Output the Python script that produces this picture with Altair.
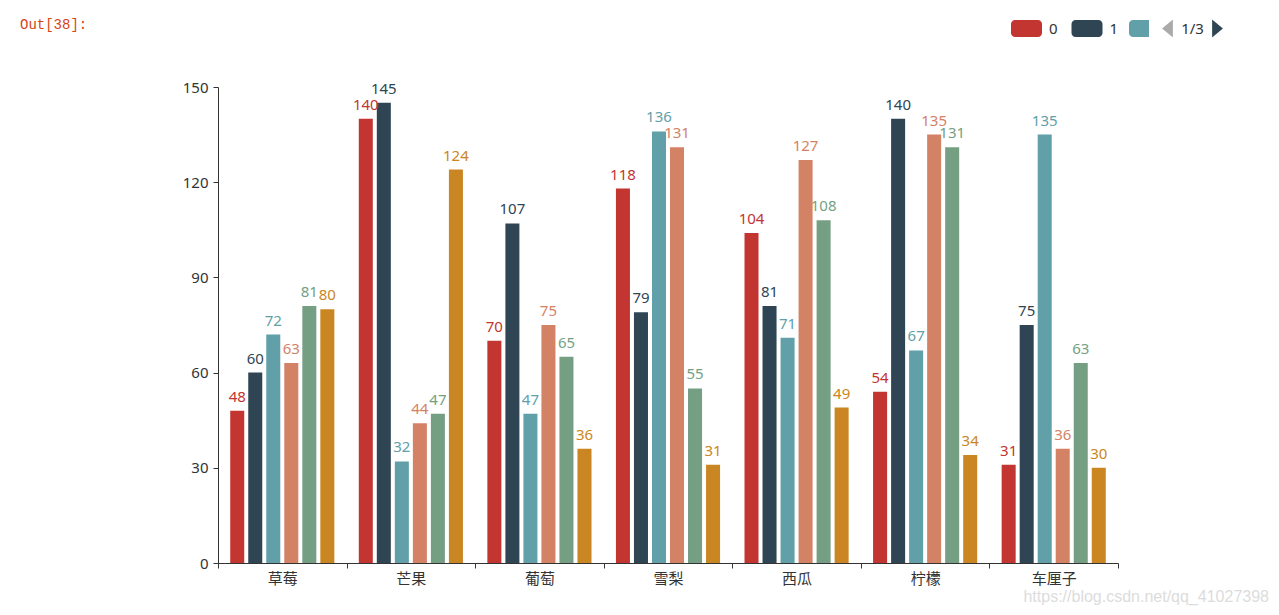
import altair as alt
import pandas as pd

categories = ["草莓", "芒果", "葡萄", "雪梨", "西瓜", "柠檬", "车厘子"]
series_names = ["0", "1", "2", "3", "4", "5"]
s0 = [48, 140, 70, 118, 104, 54, 31]
s1 = [60, 145, 107, 79, 81, 140, 75]
s2 = [72, 32, 47, 136, 71, 67, 135]
s3 = [63, 44, 75, 131, 127, 135, 36]
s4 = [81, 47, 65, 55, 108, 131, 63]
s5 = [80, 124, 36, 31, 49, 34, 30]
colors = ["#c23531", "#2f4554", "#61a0a8", "#d48265", "#749f83", "#ca8622"]
y_ticks = [0, 30, 60, 90, 120, 150]

series_values = [s0, s1, s2, s3, s4, s5]
rows = []
for name, vals in zip(series_names, series_values):
    for cat, v in zip(categories, vals):
        rows.append({"fruit": cat, "series": name, "value": v})
df = pd.DataFrame(rows)

FONT = "'Noto Sans', 'Noto Sans CJK SC', sans-serif"
TXT = "#333333"

color_scale = alt.Scale(domain=series_names, range=colors)
rr = 0.258
legend_path = (
    f"M{-1+rr},-0.548 H{1-rr} A{rr},{rr} 0 0 1 1,{-0.548+rr} V{0.548-rr} "
    f"A{rr},{rr} 0 0 1 {1-rr},0.548 H{-1+rr} A{rr},{rr} 0 0 1 -1,{0.548-rr} "
    f"V{-0.548+rr} A{rr},{rr} 0 0 1 {-1+rr},-0.548 Z"
)

x_enc = alt.X(
    "fruit:N",
    sort=categories,
    scale=alt.Scale(paddingInner=0, paddingOuter=0),
    axis=alt.Axis(
        title=None, labelAngle=0, tickBand="extent", tickSize=5,
        tickColor=TXT, domainColor=TXT, labelColor=TXT, labelFontSize=15,
        labelFont=FONT, labelPadding=3, grid=False,
    ),
)
xoff_enc = alt.XOffset(
    "series:N", sort=series_names,
    scale=alt.Scale(paddingInner=0.222, paddingOuter=0.678),
)
y_enc = alt.Y(
    "value:Q",
    scale=alt.Scale(domain=[0, 150], nice=False),
    axis=alt.Axis(
        title=None, values=y_ticks, grid=False, tickSize=5, tickColor=TXT,
        domainColor=TXT, labelColor=TXT, labelFontSize=15, labelFont=FONT,
        labelPadding=5,
    ),
)

base = alt.Chart(df)

bars = base.mark_bar().encode(
    x=x_enc,
    xOffset=xoff_enc,
    y=y_enc,
    color=alt.Color(
        "series:N", scale=color_scale,
        legend=alt.Legend(
            orient="none", legendX=793, legendY=-74, direction="horizontal",
            values=["0", "1"], title=None, symbolType=legend_path,
            symbolSize=961, symbolStrokeWidth=0, symbolOpacity=1,
            labelFontSize=15, labelColor=TXT, labelFont=FONT, labelOffset=7,
            columnPadding=12.5, padding=0,
        ),
    ),
)

labels = base.mark_text(
    baseline="alphabetic", dy=-9, fontSize=15, font=FONT
).encode(
    x=x_enc,
    xOffset=xoff_enc,
    y=y_enc,
    text=alt.Text("value:Q"),
    color=alt.Color("series:N", scale=color_scale, legend=None),
)

deco = pd.DataFrame([{"k": 1}])
dbase = alt.Chart(deco)

out_prompt = dbase.mark_text(
    align="left", baseline="middle", fontSize=14, font="Liberation Mono",
    color="#D84315",
).encode(x=alt.value(-198), y=alt.value(-62), text=alt.value("Out[38]:"))

watermark = dbase.mark_text(
    align="right", baseline="middle", fontSize=16, font="Liberation Sans",
    color="#dcdcdc",
).encode(x=alt.value(1051), y=alt.value(510),
         text=alt.value("https://blog.csdn.net/qq_41027398"))

# third legend swatch, cut off by the legend pager
cut_swatch = dbase.mark_rect(
    color=colors[2], cornerRadiusTopLeft=4, cornerRadiusBottomLeft=4,
).encode(x=alt.value(911), x2=alt.value(931), y=alt.value(-67), y2=alt.value(-50))

left_arrow = dbase.mark_point(
    shape="M0.6,-1 L-0.6,0 L0.6,1 Z", size=324, filled=True, opacity=1,
    color="#aaaaaa", strokeWidth=0,
).encode(x=alt.value(949.5), y=alt.value(-58.5))

right_arrow = dbase.mark_point(
    shape="M-0.6,-1 L0.6,0 L-0.6,1 Z", size=324, filled=True, opacity=1,
    color="#2f4554", strokeWidth=0,
).encode(x=alt.value(999.5), y=alt.value(-58.5))

pager = dbase.mark_text(
    align="center", baseline="middle", fontSize=15, font=FONT, color=TXT,
).encode(x=alt.value(974.5), y=alt.value(-58.5), text=alt.value("1/3"))

chart = (
    alt.layer(bars, labels, out_prompt, watermark, cut_swatch, left_arrow,
              right_arrow, pager)
    .resolve_scale(color="independent")
    .properties(
        width=900, height=476,
        padding={"left": 210, "top": 79, "right": 152, "bottom": 45},
        autosize=alt.AutoSizeParams(type="none"),
        background="white",
    )
    .configure_view(stroke="transparent", strokeWidth=0)
)

chart.save("out.html", embed_options={"renderer": "svg", "actions": False})
